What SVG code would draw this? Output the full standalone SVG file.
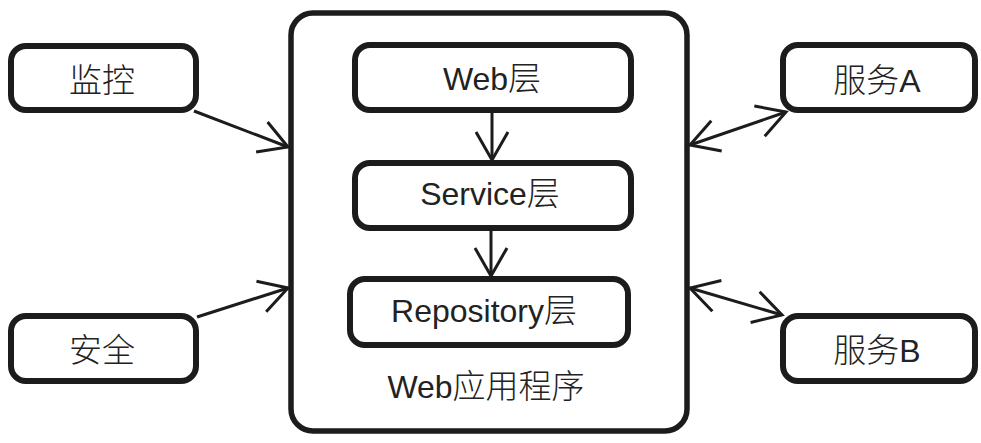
<svg xmlns="http://www.w3.org/2000/svg" width="981" height="443" viewBox="0 0 981 443">
<style>
.box{fill:#fff;stroke:#1c1c1c;stroke-width:6}
.main{fill:#fff;stroke:#1c1c1c;stroke-width:5.5}
.lbl{font-family:"Liberation Sans","Noto Sans CJK SC",sans-serif;font-size:32px;fill:#222;text-anchor:middle}
.cn{font-family:"Noto Sans CJK SC","Liberation Sans",sans-serif;font-weight:300;font-size:33px}
.conn{fill:none;stroke:#1c1c1c;stroke-width:3}
</style>
<defs>
<marker id="arr" viewBox="-32 -20 36 40" refX="0" refY="0" markerWidth="36" markerHeight="40" markerUnits="userSpaceOnUse" orient="auto-start-reverse">
<path d="M-28,-16 L0,0 L-28,16" fill="none" stroke="#1c1c1c" stroke-width="3"/>
</marker>
</defs>
<g id="app">
<rect class="main" x="291" y="13" width="396" height="418" rx="22"/>
<text class="lbl" x="486" y="398">Web<tspan class="cn">应用程序</tspan></text>
</g>
<g id="web">
<rect class="box" x="355" y="45" width="276" height="65" rx="15"/>
<text class="lbl" x="492" y="90">Web<tspan class="cn">层</tspan></text>
</g>
<g id="service">
<rect class="box" x="355" y="163" width="276" height="65" rx="15"/>
<text class="lbl" x="490" y="205">Service<tspan class="cn">层</tspan></text>
</g>
<g id="repo">
<rect class="box" x="350" y="279" width="278" height="66" rx="15"/>
<text class="lbl" x="484" y="322">Repository<tspan class="cn">层</tspan></text>
</g>
<g id="monitor">
<rect class="box" x="11" y="46" width="185" height="64" rx="15"/>
<text class="lbl cn" x="102" y="92">监控</text>
</g>
<g id="security">
<rect class="box" x="11" y="316" width="185" height="65" rx="15"/>
<text class="lbl cn" x="102" y="362">安全</text>
</g>
<g id="serviceA">
<rect class="box" x="783" y="45" width="192" height="65" rx="15"/>
<text class="lbl" x="877" y="92"><tspan class="cn">服务</tspan>A</text>
</g>
<g id="serviceB">
<rect class="box" x="783" y="316" width="192" height="65" rx="15"/>
<text class="lbl" x="877" y="362"><tspan class="cn">服务</tspan>B</text>
</g>
<g id="connectors">
<line class="conn" x1="492" y1="112" x2="492" y2="160" marker-end="url(#arr)"/>
<line class="conn" x1="491" y1="230" x2="491" y2="276" marker-end="url(#arr)"/>
<line class="conn" x1="194" y1="111" x2="288" y2="147" marker-end="url(#arr)"/>
<line class="conn" x1="197" y1="317" x2="288" y2="288" marker-end="url(#arr)"/>
<line class="conn" x1="690" y1="145" x2="786" y2="112" marker-start="url(#arr)" marker-end="url(#arr)"/>
<line class="conn" x1="690" y1="288" x2="782" y2="315" marker-start="url(#arr)" marker-end="url(#arr)"/>
</g>
</svg>
